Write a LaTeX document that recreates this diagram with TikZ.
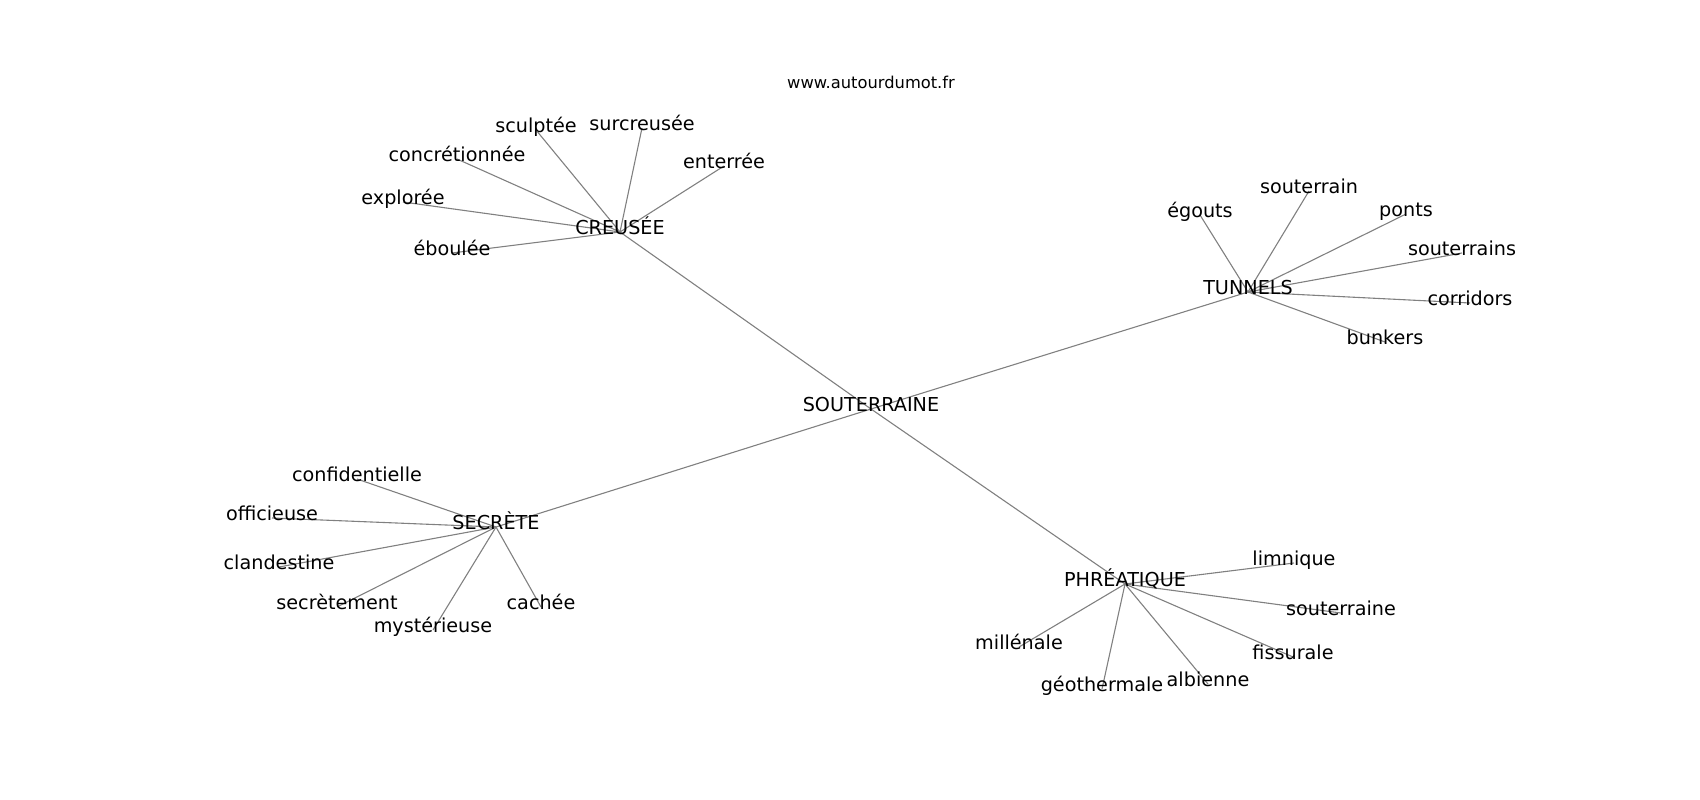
\documentclass[tikz,border=0pt]{standalone}
\usepackage{fontspec}
\setmainfont{DejaVu Sans}
\pgfdeclarelayer{bg}
\pgfsetlayers{bg,main}
\begin{document}
\begin{tikzpicture}[x=1pt,y=-1pt,
  word/.style={inner sep=0pt, anchor=center, text height=0.76em, text depth=0.24em, font=\fontsize{19.2}{23}\selectfont},
  link/.style={draw=black!50, line width=1.1pt}]
\useasboundingbox (0,0) rectangle (1700,800);
\node[inner sep=0pt, anchor=center, font=\fontsize{16.3}{20}\selectfont] (title) at (871,82) {www.autourdumot.fr};
\begin{scope}[yshift=-4pt]
% centre
\node[word] (c) at (871,405) {SOUTERRAINE};
% hubs
\node[word] (cr) at (620,228) {CREUSÉE};
\node[word] (tu) at (1248,288) {TUNNELS};
\node[word] (se) at (496,523) {SECRÈTE};
\node[word] (ph) at (1125,580) {PHRÉATIQUE};
% CREUSEE
\node[word] (cr1) at (536,126) {sculptée};
\node[word] (cr2) at (642,124) {surcreusée};
\node[word] (cr3) at (457,155) {concrétionnée};
\node[word] (cr4) at (724,162) {enterrée};
\node[word] (cr5) at (403,198) {explorée};
\node[word] (cr6) at (452,249) {éboulée};
% TUNNELS
\node[word] (tu1) at (1200,211) {égouts};
\node[word] (tu2) at (1309,187) {souterrain};
\node[word] (tu3) at (1406,210) {ponts};
\node[word] (tu4) at (1462,249) {souterrains};
\node[word] (tu5) at (1470,299) {corridors};
\node[word] (tu6) at (1385,338) {bunkers};
% SECRETE
\node[word] (se1) at (357,475) {confidentielle};
\node[word] (se2) at (272,514) {officieuse};
\node[word] (se3) at (279,563) {clandestine};
\node[word] (se4) at (337,603) {secrètement};
\node[word] (se5) at (541,603) {cachée};
\node[word] (se6) at (433,626) {mystérieuse};
% PHREATIQUE
\node[word] (ph1) at (1294,559) {limnique};
\node[word] (ph2) at (1341,609) {souterraine};
\node[word] (ph3) at (1293,653) {fissurale};
\node[word] (ph4) at (1208,680) {albienne};
\node[word] (ph5) at (1102,685) {géothermale};
\node[word] (ph6) at (1019,643) {millénale};
\end{scope}
\begin{pgfonlayer}{bg}
\foreach \h in {cr,tu,se,ph}{
  \draw[link] (c.center) -- (\h.center);
  \foreach \i in {1,...,6}{
    \draw[link] (\h.center) -- (\h\i.center);
  }
}
\end{pgfonlayer}
\end{tikzpicture}
\end{document}
